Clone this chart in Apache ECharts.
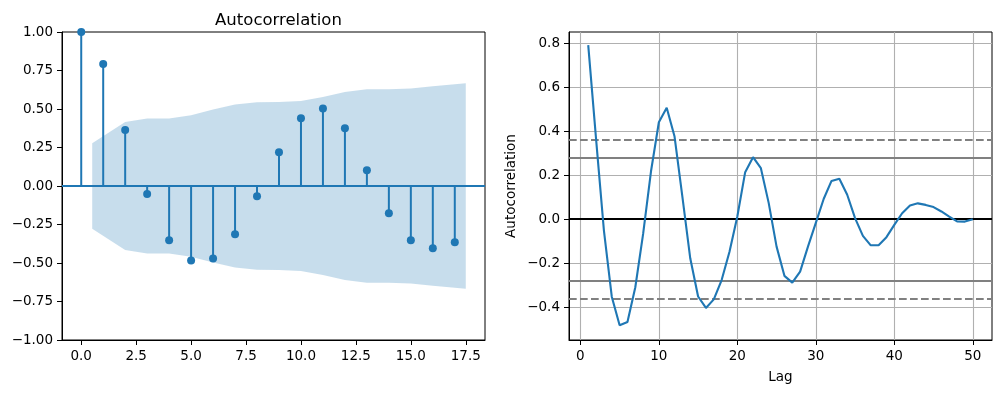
<!DOCTYPE html>
<html>
<head>
<meta charset="utf-8">
<script src="https://cdn.jsdelivr.net/npm/echarts@6/dist/echarts.min.js"></script>
<style>
html,body{margin:0;padding:0;background:#fff;}
#chart{width:1002px;height:393px;}
</style>
</head>
<body>
<div id="chart"></div>
<script>
// ---------- Left panel: ACF stems ----------
const acfLags = [0,1,2,3,4,5,6,7,8,9,10,11,12,13,14,15,16,17];
const acfValues = [1.0,0.792,0.364,-0.052,-0.353,-0.483,-0.470,-0.314,-0.067,0.219,0.440,0.504,0.375,0.102,-0.177,-0.353,-0.405,-0.366];
// confidence band (x positions and upper bound; lower is mirrored)
const bandX = [0.5,2,3,4,5,6,7,8,9,10,11,12,13,14,15,16,17.5];
const bandUpper = [0.277,0.416,0.439,0.439,0.460,0.497,0.530,0.544,0.545,0.552,0.578,0.611,0.628,0.629,0.633,0.648,0.667];
const bandLower = [-0.277,-0.416,-0.439,-0.439,-0.460,-0.497,-0.530,-0.544,-0.545,-0.552,-0.578,-0.611,-0.628,-0.629,-0.633,-0.648,-0.667];
const leftXTicks = [0,2.5,5,7.5,10,12.5,15,17.5];
const leftYTicks = [-1,-0.75,-0.5,-0.25,0,0.25,0.5,0.75,1];

// ---------- Right panel: pandas autocorrelation plot ----------
const lagLags = [1,2,3,4,5,6,7,8,9,10,11,12,13,14,15,16,17,18,19,20,21,22,23,24,25,26,27,28,29,30,31,32,33,34,35,36,37,38,39,40,41,42,43,44,45,46,47,48,49,50];
const lagValues = [0.792,0.364,-0.052,-0.353,-0.483,-0.468,-0.310,-0.066,0.218,0.441,0.507,0.376,0.101,-0.178,-0.352,-0.404,-0.365,-0.277,-0.148,0.012,0.214,0.282,0.232,0.073,-0.125,-0.258,-0.289,-0.239,-0.125,-0.017,0.092,0.174,0.184,0.111,0.005,-0.076,-0.119,-0.119,-0.082,-0.026,0.027,0.062,0.072,0.065,0.055,0.035,0.012,-0.010,-0.011,0.0];
const solidRefLines = [0.2772,-0.2772];
const dashedRefLines = [0.3643,-0.3643];
const zeroLine = [0];
const rightXTicks = [0,10,20,30,40,50];
const rightYTicks = [-0.4,-0.2,0,0.2,0.4,0.6,0.8];

const FONT = 'DejaVu Sans';
const BLUE = '#1f77b4';
const minus = s => s.replace('-', '\u2212');

const chart = echarts.init(document.getElementById('chart'), null, {renderer:'canvas'});

const axisCommon = {
  axisLine:{show:true, onZero:false, lineStyle:{color:'#000', width:1}},
  axisTick:{show:true, inside:false, length:5, lineStyle:{color:'#000', width:1}},
  axisLabel:{color:'#000', fontFamily:FONT, fontSize:13.5, margin:9},
  splitLine:{show:false}
};

const option = {
  backgroundColor:'#fff',
  animation:false,
  title:{
    text:'Autocorrelation', left:273.5, top:7, textAlign:'center',
    textStyle:{fontFamily:FONT, fontSize:16.5, fontWeight:'normal', color:'#000'}
  },
  grid:[
    {left:62, top:32, width:423, height:308, show:true, borderColor:'#000', borderWidth:1, backgroundColor:'transparent'},
    {left:569, top:32, width:423, height:308, show:true, borderColor:'#000', borderWidth:1, backgroundColor:'transparent'}
  ],
  xAxis:[
    Object.assign({}, axisCommon, {
      type:'value', gridIndex:0, min:-0.875, max:18.375,
      axisTick:Object.assign({}, axisCommon.axisTick, {customValues:leftXTicks}),
      axisLabel:Object.assign({}, axisCommon.axisLabel, {customValues:leftXTicks, formatter:v=>minus(v.toFixed(1))})
    }),
    Object.assign({}, axisCommon, {
      type:'value', gridIndex:1, min:-1.45, max:52.45,
      name:'Lag', nameLocation:'middle', nameGap:30,
      nameTextStyle:{fontFamily:FONT, fontSize:13.5, color:'#000'},
      axisTick:Object.assign({}, axisCommon.axisTick, {customValues:rightXTicks}),
      axisLabel:Object.assign({}, axisCommon.axisLabel, {customValues:rightXTicks, formatter:v=>String(v)}),
      splitLine:{show:true, lineStyle:{color:'#b0b0b0', width:1.1}}
    })
  ],
  yAxis:[
    Object.assign({}, axisCommon, {
      type:'value', gridIndex:0, min:-1, max:1, interval:0.25,
      axisTick:Object.assign({}, axisCommon.axisTick, {customValues:leftYTicks}),
      axisLabel:Object.assign({}, axisCommon.axisLabel, {customValues:leftYTicks, formatter:v=>minus(v.toFixed(2))})
    }),
    Object.assign({}, axisCommon, {
      type:'value', gridIndex:1, min:-0.55, max:0.852,
      name:'Autocorrelation', nameLocation:'middle', nameGap:51,
      nameTextStyle:{fontFamily:FONT, fontSize:13.5, color:'#000'},
      axisTick:Object.assign({}, axisCommon.axisTick, {customValues:rightYTicks}),
      axisLabel:Object.assign({}, axisCommon.axisLabel, {customValues:rightYTicks, formatter:v=>minus(v.toFixed(1))}),
      splitLine:{show:true, lineStyle:{color:'#b0b0b0', width:1.1}}
    })
  ],
  series:[
    // confidence band (upper half, filled to zero)
    {
      type:'line', xAxisIndex:0, yAxisIndex:0, z:1,
      data:bandX.map((x,i)=>[x,bandUpper[i]]),
      symbol:'none', lineStyle:{width:0}, silent:true,
      areaStyle:{color:'rgba(31,119,180,0.25)', origin:0, opacity:1}
    },
    {
      type:'line', xAxisIndex:0, yAxisIndex:0, z:1,
      data:bandX.map((x,i)=>[x,bandLower[i]]),
      symbol:'none', lineStyle:{width:0}, silent:true,
      areaStyle:{color:'rgba(31,119,180,0.25)', origin:0, opacity:1}
    },
    // stems
    {
      type:'custom', xAxisIndex:0, yAxisIndex:0, z:3,
      data:acfLags.map((x,i)=>[x,acfValues[i]]),
      renderItem:function(params, api){
        const p0 = api.coord([api.value(0), 0]);
        const p1 = api.coord([api.value(0), api.value(1)]);
        return {type:'line', shape:{x1:p0[0], y1:p0[1], x2:p1[0], y2:p1[1]},
                style:{stroke:BLUE, lineWidth:2}};
      }
    },
    // markers + zero line
    {
      type:'scatter', xAxisIndex:0, yAxisIndex:0, z:4,
      data:acfLags.map((x,i)=>[x,acfValues[i]]),
      symbol:'circle', symbolSize:8, itemStyle:{color:BLUE, opacity:1},
      markLine:{
        silent:true, symbol:'none', label:{show:false},
        lineStyle:{color:BLUE, width:2, type:'solid'},
        data:zeroLine.map(v=>({yAxis:v}))
      }
    },
    // right panel
    {
      type:'line', xAxisIndex:1, yAxisIndex:1, z:5,
      data:lagLags.map((x,i)=>[x,lagValues[i]]),
      symbol:'none', lineStyle:{color:BLUE, width:2.1},
      markLine:{
        silent:true, symbol:'none', label:{show:false}, z:2,
        data:[].concat(
          dashedRefLines.map(v=>({yAxis:v, lineStyle:{color:'#808080', width:2.1, type:[7.7,3.3]}})),
          solidRefLines.map(v=>({yAxis:v, lineStyle:{color:'#808080', width:2.1, type:'solid'}})),
          zeroLine.map(v=>({yAxis:v, lineStyle:{color:'#000', width:2.1, type:'solid'}}))
        )
      }
    }
  ]
};
chart.setOption(option);
</script>
</body>
</html>
